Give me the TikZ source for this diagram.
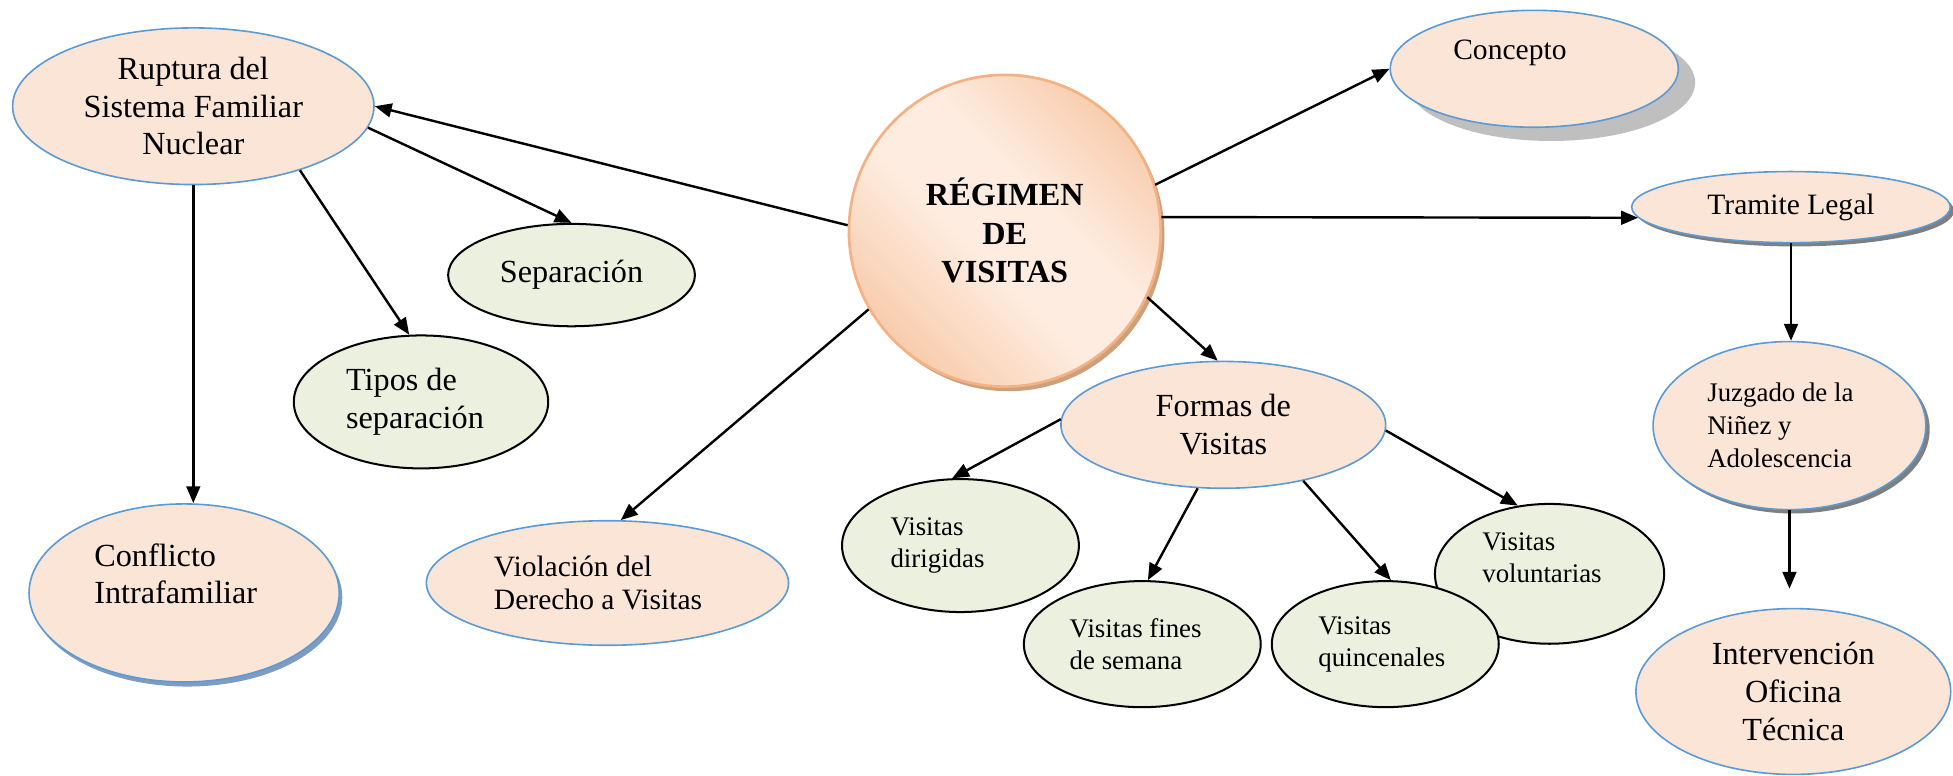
\documentclass[tikz,border=0pt]{standalone}
\usepackage{fontspec}
\setmainfont{Liberation Serif}
\usetikzlibrary{shapes.geometric, arrows.meta, shadows}

\definecolor{durazno}{HTML}{FBE5D6}
\definecolor{bordeazul}{HTML}{5B9BD5}
\definecolor{verdeclaro}{HTML}{EBF1DE}
\definecolor{naranja}{HTML}{F7C4A0}
\definecolor{naranjaclaro}{HTML}{FDECDF}
\definecolor{bordenaranja}{HTML}{F4B183}
\definecolor{sombraclara}{HTML}{BFBFBF}
\definecolor{sombraoscura}{HTML}{7F7F7F}
\definecolor{sombraazulada}{HTML}{7F9CC0}
\definecolor{sombracafe}{HTML}{CDA07C}

\pgfdeclarehorizontalshading{regimen}{100bp}{color(0bp)=(naranja); color(20bp)=(naranja);
    color(44bp)=(naranjaclaro); color(58bp)=(naranjaclaro); color(80bp)=(naranja); color(100bp)=(naranja)}

\begin{document}
\begin{tikzpicture}[
    tema/.style={ellipse, draw=bordeazul, fill=durazno, line width=0.6pt, inner sep=0pt,
                 font=\fontsize{12}{14}\selectfont},
    subtema/.style={ellipse, draw=black, fill=verdeclaro, line width=0.75pt, inner sep=0pt,
                    font=\fontsize{12}{14}\selectfont},
    visita/.style={subtema, font=\fontsize{10}{12}\selectfont, align=flush left},
    sombragris/.style={drop shadow={shadow xshift=0.22cm, shadow yshift=-0.18cm, fill=sombraclara, opacity=1}},
    sombraoscura/.style={drop shadow={shadow xshift=0.05cm, shadow yshift=-0.05cm, fill=sombraoscura, opacity=1}},
    sombraazul/.style={drop shadow={shadow xshift=0.04cm, shadow yshift=-0.06cm, fill=sombraazulada, opacity=1}},
    sombranaranja/.style={drop shadow={shadow xshift=0.05cm, shadow yshift=-0.06cm, fill=sombracafe, opacity=1}},
    flecha/.style={-{Triangle[length=2.2mm, width=1.8mm]}, line width=0.9pt}
]

    % Marco
    \useasboundingbox (0,0) rectangle (25.56,-10.15);

    % Regimen de visitas
    \node[circle, minimum size=4.08cm, draw=bordenaranja, line width=1pt, inner sep=0pt, sombranaranja,
          shading=regimen, shading angle=45,
          font=\fontsize{12}{14.3}\selectfont\bfseries, align=center]
          (reg) at (13.15,-3.02) {RÉGIMEN\\DE\\VISITAS};

    % Ruptura del sistema familiar
    \node[tema, minimum width=4.73cm, minimum height=2.05cm, align=center]
          (rup) at (2.53,-1.39) {Ruptura del\\Sistema Familiar\\Nuclear};

    % Concepto
    \node[tema, sombragris, minimum width=3.77cm, minimum height=1.53cm, text width=2.12cm, align=flush left,
          text depth=0.5cm, font=\fontsize{11}{13}\selectfont]
          (con) at (20.08,-0.90) {Concepto};

    % Tramite legal
    \node[tema, sombraoscura, minimum width=4.17cm, minimum height=0.93cm, font=\fontsize{11}{13}\selectfont]
          (tra) at (23.44,-2.71) {Tramite Legal};

    % Separacion
    \node[subtema, minimum width=3.23cm, minimum height=1.34cm] (sep) at (7.48,-3.60) {Separación};
    \node[subtema, minimum width=3.33cm, minimum height=1.74cm, text width=1.96cm, align=flush left]
          (tip) at (5.51,-5.26) {Tipos de\\separación};

    % Conflicto
    \node[tema, sombraazul, minimum width=4.06cm, minimum height=2.33cm, text width=2.35cm, align=flush left,
          text depth=1.0cm]
          (conf) at (2.41,-7.76) {Conflicto\\Intrafamiliar};

    % Violacion
    \node[tema, minimum width=4.74cm, minimum height=1.63cm, text width=2.97cm, align=flush left,
          font=\fontsize{11}{12.5}\selectfont]
          (vio) at (7.95,-7.63) {Violación del\\Derecho a Visitas};

    % Formas de visitas
    \node[tema, minimum width=4.25cm, minimum height=1.66cm, align=center]
          (formas) at (16.01,-5.56) {Formas de\\Visitas};
    \node[visita, minimum width=3.10cm, minimum height=1.74cm, text width=1.83cm] (dir) at (12.57,-7.14) {Visitas\\dirigidas};
    \node[visita, minimum width=3.10cm, minimum height=1.65cm, text width=1.9cm] (fin) at (14.95,-8.43) {Visitas fines\\de semana};
    \node[visita, minimum width=3.00cm, minimum height=1.83cm, text width=1.76cm, text depth=0.85cm] (vol) at (20.28,-7.51) {Visitas\\voluntarias};
    \node[visita, minimum width=2.97cm, minimum height=1.65cm, text width=1.75cm] (qui) at (18.13,-8.43) {Visitas\\quincenales};

    % Tramite
    \node[tema, sombraoscura, minimum width=3.57cm, minimum height=2.20cm, text width=2.15cm, align=flush left,
          font=\fontsize{10}{12.3}\selectfont]
          (juz) at (23.42,-5.57) {Juzgado de la\\Niñez y\\Adolescencia};
    \node[tema, minimum width=4.12cm, minimum height=2.17cm, align=center]
          (inter) at (23.47,-9.05) {Intervención\\Oficina\\Técnica};

    % Flechas
    \draw[flecha] (reg.178) -- (rup.east);
    \draw[flecha] (rup.353) -- (sep.north);
    \draw[flecha] (rup.329) -- (tip.100);
    \draw[flecha] (rup.south) -- (rup.south |- conf.north);
    \draw[flecha] (reg.210) -- (vio.78);
    \draw[flecha] (reg.17) -- (con.west);
    \draw[flecha] (reg.5) -- (tra.184);
    \draw[flecha] (reg.335) -- (formas.95);
    \draw[flecha] (formas.178) -- (dir.97);
    \draw[flecha] (formas.248) -- (fin.85);
    \draw[flecha] (formas.325) -- (qui.85);
    \draw[flecha] (formas.358) -- (vol.115);
    \draw[flecha] (tra.south) -- (tra.south |- juz.north);
    \draw[flecha, shorten >=0.25cm] (juz.south) -- (juz.south |- inter.north);

\end{tikzpicture}
\end{document}
